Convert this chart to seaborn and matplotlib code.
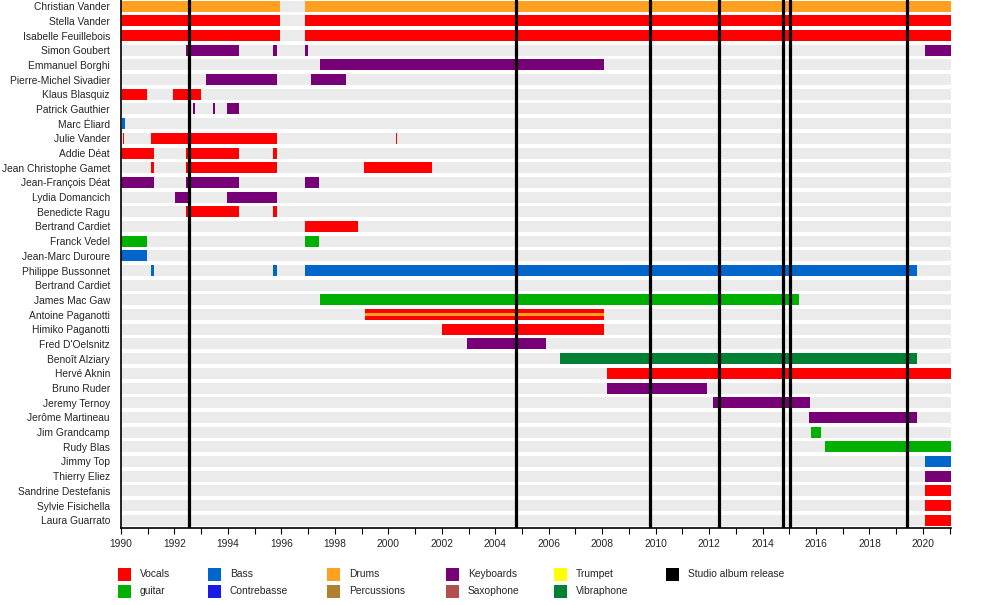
import matplotlib
matplotlib.use("Agg")
import matplotlib.pyplot as plt
from matplotlib.patches import Rectangle
from matplotlib.ticker import MultipleLocator
import seaborn as sns
import pandas as pd

# Members, top to bottom
members = [
    "Christian Vander", "Stella Vander", "Isabelle Feuillebois", "Simon Goubert",
    "Emmanuel Borghi", "Pierre-Michel Sivadier", "Klaus Blasquiz", "Patrick Gauthier",
    "Marc Éliard", "Julie Vander", "Addie Déat", "Jean Christophe Gamet",
    "Jean-François Déat", "Lydia Domancich", "Benedicte Ragu", "Bertrand Cardiet",
    "Franck Vedel", "Jean-Marc Duroure", "Philippe Bussonnet", "Bertrand Cardiet ",
    "James Mac Gaw", "Antoine Paganotti", "Himiko Paganotti", "Fred D'Oelsnitz",
    "Benoît Alziary", "Hervé Aknin", "Bruno Ruder", "Jeremy Ternoy",
    "Jerôme Martineau", "Jim Grandcamp", "Rudy Blas", "Jimmy Top",
    "Thierry Eliez", "Sandrine Destefanis", "Sylvie Fisichella", "Laura Guarrato",
]

# Membership periods (member index, start, end, role, thin stripe?)
seg_member = [0, 0, 1, 1, 2, 2,
              3, 3, 3, 3,
              4,
              5, 5,
              6, 6,
              7, 7, 7,
              8,
              9, 9, 9,
              10, 10, 10,
              11, 11, 11,
              12, 12, 12,
              13, 13,
              14, 14,
              15,
              16, 16,
              17,
              18, 18, 18,
              20,
              21, 21,
              22, 23, 24, 25, 26, 27, 28, 29, 30, 31, 32, 33, 34, 35]
seg_start = [1990.0, 1996.87, 1990.0, 1996.87, 1990.0, 1996.87,
             1992.43, 1995.67, 1996.87, 2020.07,
             1997.43,
             1993.17, 1997.09,
             1990.04, 1991.94,
             1992.70, 1993.46, 1993.96,
             1990.04,
             1990.07, 1991.12, 2000.29,
             1990.0, 1992.43, 1995.67,
             1991.12, 1992.43, 1999.10,
             1990.0, 1992.43, 1996.87,
             1992.01, 1993.96,
             1992.43, 1995.67,
             1996.87,
             1990.0, 1996.87,
             1990.0,
             1991.12, 1995.67, 1996.87,
             1997.46,
             1999.14, 1999.14,
             2002.01, 2002.95, 2006.42, 2008.17, 2008.17, 2012.16, 2015.75,
             2015.82, 2016.34, 2020.07, 2020.07, 2020.07, 2020.07, 2020.07]
seg_end = [1995.93, 2021.05, 1995.93, 2021.05, 1995.93, 2021.05,
           1994.40, 1995.82, 1996.98, 2021.05,
           2008.06,
           1995.82, 1998.40,
           1990.97, 1992.99,
           1992.75, 1993.51, 1994.40,
           1990.15,
           1990.12, 1995.82, 2000.34,
           1991.23, 1994.40, 1995.82,
           1991.23, 1995.82, 2001.64,
           1991.23, 1994.40, 1997.39,
           1992.57, 1995.82,
           1994.40, 1995.82,
           1998.88,
           1990.97, 1997.39,
           1990.97,
           1991.23, 1995.82, 2019.78,
           2015.37,
           2008.06, 2008.06,
           2008.06, 2005.90, 2019.78, 2021.05, 2011.94, 2015.78, 2019.78,
           2016.19, 2021.05, 2021.05, 2021.05, 2021.05, 2021.05, 2021.05]
seg_role = ["Drums", "Drums", "Vocals", "Vocals", "Vocals", "Vocals",
            "Keyboards", "Keyboards", "Keyboards", "Keyboards",
            "Keyboards",
            "Keyboards", "Keyboards",
            "Vocals", "Vocals",
            "Keyboards", "Keyboards", "Keyboards",
            "Bass",
            "Vocals", "Vocals", "Vocals",
            "Vocals", "Vocals", "Vocals",
            "Vocals", "Vocals", "Vocals",
            "Keyboards", "Keyboards", "Keyboards",
            "Keyboards", "Keyboards",
            "Vocals", "Vocals",
            "Vocals",
            "guitar", "guitar",
            "Bass",
            "Bass", "Bass", "Bass",
            "guitar",
            "Vocals", "Drums",
            "Vocals", "Keyboards", "Vibraphone", "Vocals", "Keyboards", "Keyboards", "Keyboards",
            "guitar", "guitar", "Bass", "Keyboards", "Vocals", "Vocals", "Vocals"]
seg_stripe = [False] * len(seg_member)
seg_stripe[44] = True  # Antoine Paganotti: drums as thin stripe over vocals

# Studio album releases
albums = [1992.55, 2004.79, 2009.79, 2012.37, 2014.75, 2015.01, 2019.39]

roles = ["Vocals", "guitar", "Bass", "Contrebasse", "Drums", "Percussions",
         "Keyboards", "Saxophone", "Trumpet", "Vibraphone"]
role_colors = ["#FF0000", "#00B000", "#0066CC", "#1A1AE6", "#FFA020", "#B08030",
               "#770077", "#B05050", "#FFFF00", "#008033"]
color_of = dict(zip(roles, role_colors))

x_start, x_end = 1990.0, 2021.05

segs = pd.DataFrame({"member": seg_member, "start": seg_start, "end": seg_end,
                     "role": seg_role, "stripe": seg_stripe})

sns.set_style("white")
plt.rcParams["font.family"] = ["Liberation Sans", "DejaVu Sans"]

fig = plt.figure(figsize=(10, 6.05), dpi=100)
ax = fig.add_axes([0.121, 0.128, 0.830, 0.874])

# grey background rows
bg = pd.DataFrame({"member": range(len(members)), "end": [x_end] * len(members)})
ax.barh(bg["member"], bg["end"] - x_start, left=x_start, height=0.75,
        color="#EBEBEB", linewidth=0, zorder=1)

main = segs[~segs["stripe"]]
ax.barh(main["member"], main["end"] - main["start"], left=main["start"], height=0.75,
        color=[color_of[r] for r in main["role"]], linewidth=0, zorder=2)
thin = segs[segs["stripe"]]
ax.barh(thin["member"], thin["end"] - thin["start"], left=thin["start"], height=0.25,
        color=[color_of[r] for r in thin["role"]], linewidth=0, zorder=3)

for a in albums:
    ax.axvline(a, color="black", linewidth=2.3, zorder=4)

ax.set_xlim(x_start, x_end)
ax.set_ylim(len(members) - 0.5, -0.5)
ax.set_yticks(range(len(members)))
ax.set_yticklabels([m.strip() for m in members], fontsize=7.4)
ax.tick_params(axis="y", length=0, pad=8)
ax.xaxis.set_minor_locator(MultipleLocator(1))
ax.set_xticks(range(1990, 2021, 2))
ax.set_xticklabels([str(y) for y in range(1990, 2021, 2)], fontsize=7.4)
ax.tick_params(axis="x", which="both", direction="out", length=4, width=0.8,
               color="black", bottom=True, pad=4)
for s in ["top", "right"]:
    ax.spines[s].set_visible(False)
for s in ["left", "bottom"]:
    ax.spines[s].set_color("black")
    ax.spines[s].set_linewidth(1.2)

# legend, laid out in two rows like the original
leg_items = [("Vocals", "#FF0000"), ("guitar", "#00B000"), ("Bass", "#0066CC"),
             ("Contrebasse", "#1A1AE6"), ("Drums", "#FFA020"), ("Percussions", "#B08030"),
             ("Keyboards", "#770077"), ("Saxophone", "#B05050"), ("Trumpet", "#FFFF00"),
             ("Vibraphone", "#008033"), ("Studio album release", "black")]
col_x = [118, 208, 327, 446, 554, 666]
row_y = [574, 591]
for i, (lab, col) in enumerate(leg_items):
    c, r = divmod(i, 2)
    x0, y0 = col_x[c], row_y[r]
    fig.patches.append(Rectangle((x0 / 1000, 1 - (y0 + 6.5) / 605), 13 / 1000, 13 / 605,
                                 transform=fig.transFigure, color=col, linewidth=0))
    fig.text((x0 + 22) / 1000, 1 - y0 / 605, lab, fontsize=7.4, va="center", ha="left")

fig.savefig("out.png", dpi=100)
